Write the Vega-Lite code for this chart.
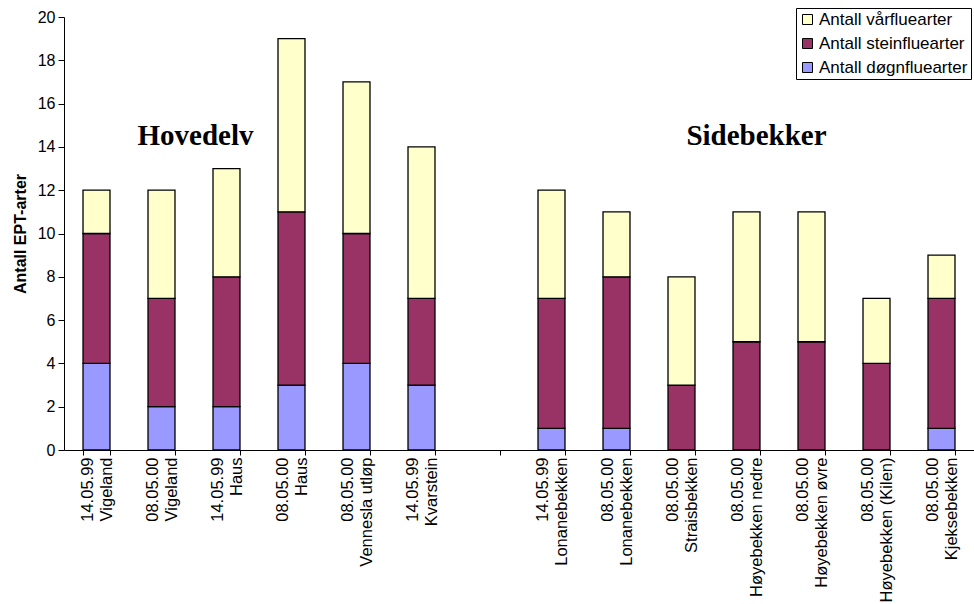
{
  "$schema": "https://vega.github.io/schema/vega-lite/v6.json",
  "width": 910,
  "height": 433,
  "autosize": "none",
  "padding": {"left": 64, "top": 17, "right": 0, "bottom": 154},
  "background": "white",
  "config": {"view": {"stroke": null}, "font": "Liberation Sans"},
  "layer": [
    {
      "data": {
        "values": [
          {"site": "14.05.99|Vigeland", "serie": "Antall døgnfluearter", "n": 4},
          {"site": "14.05.99|Vigeland", "serie": "Antall steinfluearter", "n": 6},
          {"site": "14.05.99|Vigeland", "serie": "Antall vårfluearter", "n": 2},
          {"site": "08.05.00|Vigeland", "serie": "Antall døgnfluearter", "n": 2},
          {"site": "08.05.00|Vigeland", "serie": "Antall steinfluearter", "n": 5},
          {"site": "08.05.00|Vigeland", "serie": "Antall vårfluearter", "n": 5},
          {"site": "14.05.99|Haus", "serie": "Antall døgnfluearter", "n": 2},
          {"site": "14.05.99|Haus", "serie": "Antall steinfluearter", "n": 6},
          {"site": "14.05.99|Haus", "serie": "Antall vårfluearter", "n": 5},
          {"site": "08.05.00|Haus", "serie": "Antall døgnfluearter", "n": 3},
          {"site": "08.05.00|Haus", "serie": "Antall steinfluearter", "n": 8},
          {"site": "08.05.00|Haus", "serie": "Antall vårfluearter", "n": 8},
          {"site": "08.05.00|Vennesla utløp", "serie": "Antall døgnfluearter", "n": 4},
          {"site": "08.05.00|Vennesla utløp", "serie": "Antall steinfluearter", "n": 6},
          {"site": "08.05.00|Vennesla utløp", "serie": "Antall vårfluearter", "n": 7},
          {"site": "14.05.99|Kvarstein", "serie": "Antall døgnfluearter", "n": 3},
          {"site": "14.05.99|Kvarstein", "serie": "Antall steinfluearter", "n": 4},
          {"site": "14.05.99|Kvarstein", "serie": "Antall vårfluearter", "n": 7},
          {"site": "14.05.99|Lonanebekken", "serie": "Antall døgnfluearter", "n": 1},
          {"site": "14.05.99|Lonanebekken", "serie": "Antall steinfluearter", "n": 6},
          {"site": "14.05.99|Lonanebekken", "serie": "Antall vårfluearter", "n": 5},
          {"site": "08.05.00|Lonanebekken", "serie": "Antall døgnfluearter", "n": 1},
          {"site": "08.05.00|Lonanebekken", "serie": "Antall steinfluearter", "n": 7},
          {"site": "08.05.00|Lonanebekken", "serie": "Antall vårfluearter", "n": 3},
          {"site": "08.05.00|Straisbekken", "serie": "Antall døgnfluearter", "n": 0},
          {"site": "08.05.00|Straisbekken", "serie": "Antall steinfluearter", "n": 3},
          {"site": "08.05.00|Straisbekken", "serie": "Antall vårfluearter", "n": 5},
          {"site": "08.05.00|Høyebekken nedre", "serie": "Antall døgnfluearter", "n": 0},
          {"site": "08.05.00|Høyebekken nedre", "serie": "Antall steinfluearter", "n": 5},
          {"site": "08.05.00|Høyebekken nedre", "serie": "Antall vårfluearter", "n": 6},
          {"site": "08.05.00|Høyebekken øvre", "serie": "Antall døgnfluearter", "n": 0},
          {"site": "08.05.00|Høyebekken øvre", "serie": "Antall steinfluearter", "n": 5},
          {"site": "08.05.00|Høyebekken øvre", "serie": "Antall vårfluearter", "n": 6},
          {"site": "08.05.00|Høyebekken  (Kilen)", "serie": "Antall døgnfluearter", "n": 0},
          {"site": "08.05.00|Høyebekken  (Kilen)", "serie": "Antall steinfluearter", "n": 4},
          {"site": "08.05.00|Høyebekken  (Kilen)", "serie": "Antall vårfluearter", "n": 3},
          {"site": "08.05.00|Kjeksebekken", "serie": "Antall døgnfluearter", "n": 1},
          {"site": "08.05.00|Kjeksebekken", "serie": "Antall steinfluearter", "n": 6},
          {"site": "08.05.00|Kjeksebekken", "serie": "Antall vårfluearter", "n": 2}
        ]
      },
      "mark": {"type": "bar", "stroke": "black", "strokeWidth": 1.3},
      "encoding": {
        "x": {
          "field": "site",
          "type": "nominal",
          "sort": null,
          "scale": {
            "domain": ["14.05.99|Vigeland", "08.05.00|Vigeland", "14.05.99|Haus", "08.05.00|Haus", "08.05.00|Vennesla utløp", "14.05.99|Kvarstein", " ", "14.05.99|Lonanebekken", "08.05.00|Lonanebekken", "08.05.00|Straisbekken", "08.05.00|Høyebekken nedre", "08.05.00|Høyebekken øvre", "08.05.00|Høyebekken  (Kilen)", "08.05.00|Kjeksebekken"],
            "paddingInner": 0.585,
            "paddingOuter": 0.2925
          },
          "axis": {
            "title": null,
            "grid": false,
            "labelAngle": -90,
            "labelAlign": "right",
            "labelBaseline": "middle",
            "labelFont": "Liberation Sans",
            "labelFontSize": 16.5,
            "labelColor": "black",
            "labelLineHeight": 19,
            "labelPadding": 2,
            "labelOffset": -9.5,
            "labelExpr": "split(datum.label, '|')",
            "tickBand": "extent",
            "tickSize": 5,
            "tickColor": "black",
            "domainColor": "black"
          }
        },
        "y": {
          "field": "n",
          "type": "quantitative",
          "stack": "zero",
          "scale": {"domain": [0, 20]},
          "axis": {
            "title": "Antall EPT-arter",
            "titleFont": "Liberation Sans",
            "titleFontSize": 16,
            "titleFontWeight": "bold",
            "titleColor": "black",
            "titlePadding": 9,
            "values": [0, 2, 4, 6, 8, 10, 12, 14, 16, 18, 20],
            "grid": false,
            "labelFont": "Liberation Sans",
            "labelFontSize": 16,
            "labelColor": "black",
            "labelPadding": 3,
            "tickSize": 6,
            "tickColor": "black",
            "domainColor": "black"
          }
        },
        "color": {
          "field": "serie",
          "type": "nominal",
          "scale": {
            "domain": ["Antall vårfluearter", "Antall steinfluearter", "Antall døgnfluearter"],
            "range": ["#FFFFCC", "#993366", "#9999FF"]
          },
          "legend": {
            "orient": "none",
            "legendX": 732,
            "legendY": -9,
            "title": null,
            "strokeColor": "black",
            "fillColor": "white",
            "padding": 3,
            "cornerRadius": 0,
            "symbolType": "square",
            "symbolSize": 100,
            "symbolStrokeColor": "black",
            "symbolStrokeWidth": 1,
            "labelFont": "Liberation Sans",
            "labelFontSize": 17,
            "labelColor": "black",
            "labelOffset": 3,
            "rowPadding": 6
          }
        },
        "order": {"field": "serie", "sort": "ascending"}
      }
    },
    {
      "data": {"values": [{"site": "14.05.99|Haus", "n": 14.1, "label": "Hovedelv"}]},
      "mark": {"type": "text", "font": "Liberation Serif", "fontWeight": "bold", "fontSize": 29, "align": "center", "baseline": "alphabetic", "color": "black", "dx": -31},
      "encoding": {
        "x": {"field": "site", "type": "nominal"},
        "y": {"field": "n", "type": "quantitative"},
        "text": {"field": "label"}
      }
    },
    {
      "data": {"values": [{"site": "08.05.00|Høyebekken nedre", "n": 14.1, "label": "Sidebekker"}]},
      "mark": {"type": "text", "font": "Liberation Serif", "fontWeight": "bold", "fontSize": 29, "align": "center", "baseline": "alphabetic", "color": "black", "dx": 10},
      "encoding": {
        "x": {"field": "site", "type": "nominal"},
        "y": {"field": "n", "type": "quantitative"},
        "text": {"field": "label"}
      }
    }
  ]
}
